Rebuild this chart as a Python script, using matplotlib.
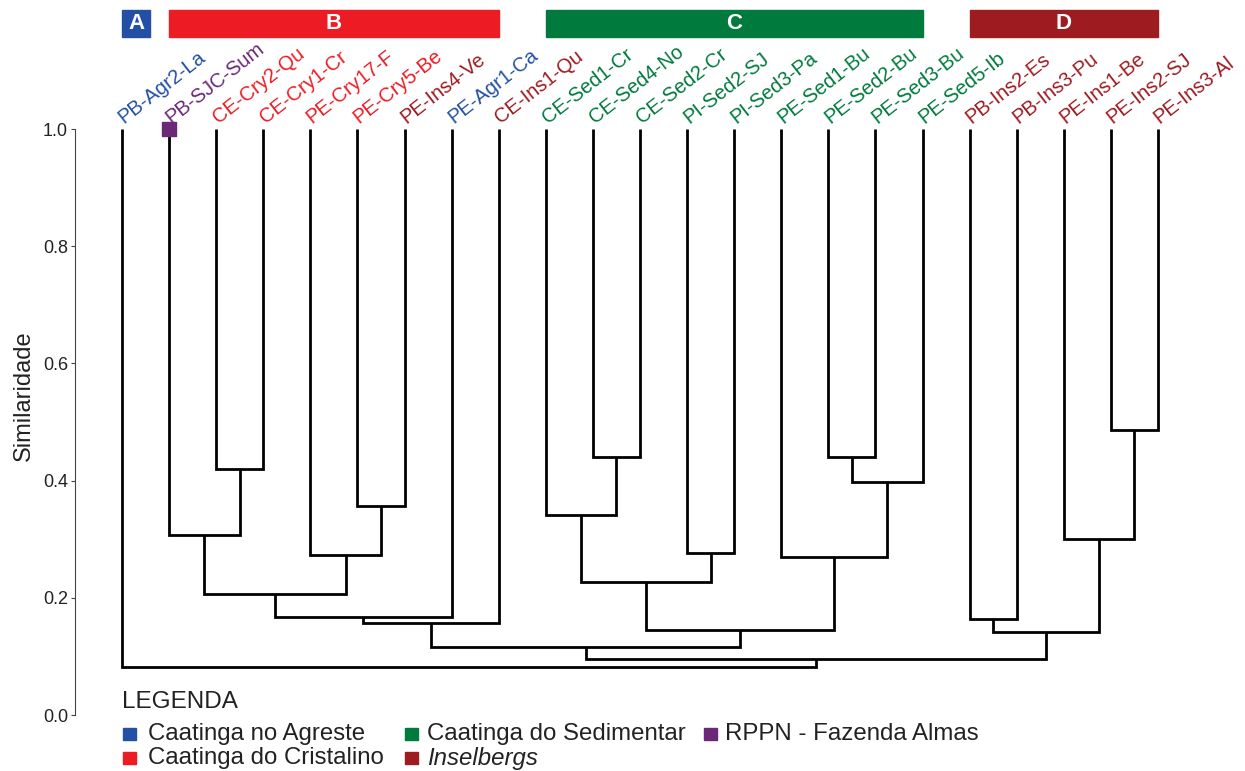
import matplotlib.pyplot as plt
from matplotlib.patches import Rectangle

plt.rcParams['font.family'] = ['Liberation Sans', 'DejaVu Sans']

# leaves, left to right
leaves = ['PB-Agr2-La', 'PB-SJC-Sum', 'CE-Cry2-Qu', 'CE-Cry1-Cr', 'PE-Cry17-F',
          'PE-Cry5-Be', 'PE-Ins4-Ve', 'PE-Agr1-Ca', 'CE-Ins1-Qu', 'CE-Sed1-Cr',
          'CE-Sed4-No', 'CE-Sed2-Cr', 'PI-Sed2-SJ', 'PI-Sed3-Pa', 'PE-Sed1-Bu',
          'PE-Sed2-Bu', 'PE-Sed3-Bu', 'PE-Sed5-Ib', 'PB-Ins2-Es', 'PB-Ins3-Pu',
          'PE-Ins1-Be', 'PE-Ins2-SJ', 'PE-Ins3-Al']
leaf_type = ['agr', 'rppn', 'cry', 'cry', 'cry', 'cry', 'ins', 'agr', 'ins',
             'sed', 'sed', 'sed', 'sed', 'sed', 'sed', 'sed', 'sed', 'sed',
             'ins', 'ins', 'ins', 'ins', 'ins']

# merges (scipy style: leaves 0..22, new clusters 23..)
merge_a = [2, 5, 4, 1, 26, 27, 28, 10, 9, 12, 31, 15, 34, 14, 33, 29, 21, 20, 18, 41, 38, 0]
merge_b = [3, 6, 24, 23, 25, 7, 8, 11, 30, 13, 32, 16, 17, 35, 36, 37, 22, 39, 19, 40, 42, 43]
merge_h = [0.419, 0.356, 0.273, 0.308, 0.206, 0.167, 0.157, 0.441, 0.341, 0.276, 0.227,
           0.441, 0.397, 0.269, 0.145, 0.116, 0.486, 0.300, 0.164, 0.141, 0.095, 0.082]

groups = ['A', 'B', 'C', 'D']
group_start = [0, 1, 9, 18]
group_end = [0.6, 8, 17, 22]
group_color = ['#2350a4', '#ed1c24', '#007a3d', '#9e1b20']

type_color = {'agr': '#2350a4', 'cry': '#ed1c24', 'sed': '#007a3d',
              'ins': '#9e1b20', 'rppn': '#6a2877'}
legend_labels = ['Caatinga no Agreste', 'Caatinga do Cristalino', 'Caatinga do Sedimentar',
                 'Inselbergs', 'RPPN - Fazenda Almas']
legend_types = ['agr', 'cry', 'sed', 'ins', 'rppn']

W, H = 1245, 771
fig = plt.figure(figsize=(W / 100, H / 100), dpi=100)
ax = fig.add_axes([74.9 / W, 56 / H, 1153.7 / W, 586 / H])

# positions of clusters
xpos = list(range(len(leaves)))
hpos = [1.0] * len(leaves)
for a, b, h in zip(merge_a, merge_b, merge_h):
    ax.plot([xpos[a], xpos[a], xpos[b], xpos[b]], [hpos[a], h, h, hpos[b]],
            color='black', lw=2.0, solid_joinstyle='miter', solid_capstyle='butt')
    xpos.append((xpos[a] + xpos[b]) / 2)
    hpos.append(h)

ax.set_xlim(-1.0, 23.5)
ax.set_ylim(0, 1)

# leaf labels
for i, lab in enumerate(leaves):
    ax.text(i + 0.04, 1.009, lab, rotation=38, rotation_mode='anchor',
            ha='left', va='baseline', fontsize=14.5, color=type_color[leaf_type[i]],
            clip_on=False)

# RPPN marker
ax.plot([1], [1.0], marker='s', markersize=10, color=type_color['rppn'],
        clip_on=False, zorder=5)

# group boxes
for g, s, e, c in zip(groups, group_start, group_end, group_color):
    ax.add_patch(Rectangle((s, 1.157), e - s, 0.046, color=c, clip_on=False))
    ax.text((s + e) / 2, 1.180, g, ha='center', va='center', color='white',
            fontsize=16, fontweight='bold', clip_on=False)

for sp in ['top', 'right', 'bottom']:
    ax.spines[sp].set_visible(False)
ax.spines['left'].set_color('#444444')
ax.spines['left'].set_linewidth(0.8)
ax.set_xticks([])
ax.set_yticks([0, 0.2, 0.4, 0.6, 0.8, 1.0])
ax.set_yticklabels(['0.0', '0.2', '0.4', '0.6', '0.8', '1.0'])
ax.tick_params(axis='y', length=3, width=0.8, color='#444444', pad=2,
               labelsize=13, labelcolor='#222222')
ax.set_ylabel('Similaridade', fontsize=17, color='#222222')
ax.yaxis.set_label_coords(-0.035, 0.545)

# legend
def fx(px):
    return px / W

def fy(py):
    return 1 - py / H

fig.text(fx(122), fy(702), 'LEGENDA', fontsize=17.5, color='#222222', va='center')
leg_sq_x = [123, 123, 405, 405, 704]
leg_txt_x = [148, 148, 427, 427, 725]
leg_y = [734, 758, 734, 758, 734]
for lab, t, sx, tx, y in zip(legend_labels, legend_types, leg_sq_x, leg_txt_x, leg_y):
    fig.patches.append(Rectangle((fx(sx), fy(y + 6)), 13 / W, 12 / H,
                                 transform=fig.transFigure, color=type_color[t]))
    fig.text(fx(tx), fy(y), lab, fontsize=17.3, color='#222222', va='center',
             style='italic' if lab == 'Inselbergs' else 'normal')

fig.savefig('out.png', dpi=100)
